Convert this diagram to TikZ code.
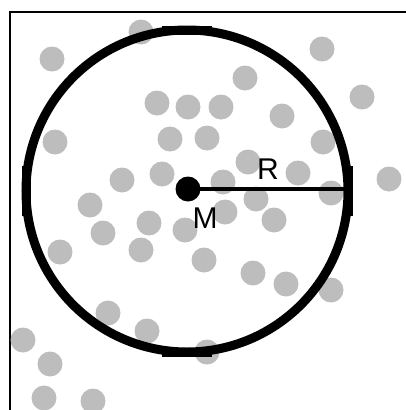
\documentclass[tikz,border=0pt]{standalone}
\usepackage{fontspec}
\setmainfont{Liberation Sans}
\definecolor{dotgray}{RGB}{189,189,189}
\begin{document}
\begin{tikzpicture}[x=1pt,y=-1pt,
  gdot/.style={circle,fill=dotgray,inner sep=0pt,minimum size=25pt},
  bigring/.style={circle,draw=black,line width=9pt,inner sep=0pt,outer sep=0pt,minimum size=322pt},
  flat/.style={line width=9pt,line cap=butt},
  frameline/.style={line width=2pt},
  lbl/.style={inner sep=0pt,font=\fontsize{30}{30}\selectfont}]
\useasboundingbox (0,0) rectangle (406,410);
\coordinate (fa) at (10,410);
\coordinate (fb) at (10,12);
\coordinate (fc) at (406,12);
\draw[frameline] (fa) -- (fb) -- (fc);
\foreach \x/\y [count=\i] in {141/32,52/59,157/103,188/107,55/142,170/139,207/138,122/180,162/174,90/205,
  322/49,245/78,362/97,221/107,282/116,323/142,248/162,298/173,223/182,331/193,256/199,389/179,
  225/212,274/220,103/233,149/223,185/230,60/252,141/250,204/260,253/273,286/284,331/290,
  108/313,147/331,207/352,23/340,50/364,44/398,93/401}
  \node[gdot] (d\i) at (\x,\y) {};
\node[bigring] (ring) at (187,191) {};
\draw[flat] ([yshift=-25pt]ring.west) -- ([yshift=25pt]ring.west);
\draw[flat] ([yshift=-25pt]ring.east) -- ([yshift=25pt]ring.east);
\draw[flat] ([xshift=-25pt]ring.north) -- ([xshift=25pt]ring.north);
\draw[flat] ([xshift=-25pt]ring.south) -- ([xshift=25pt]ring.south);
\node[circle,fill=black,inner sep=0pt,minimum size=25pt] (M) at (188,189) {};
\draw[line width=3.5pt] (M.center) -- (ring.east |- M.center);
\node[lbl] (Rl) at (268,169) {R};
\node[lbl] (Ml) at (205,218) {M};
\end{tikzpicture}
\end{document}
